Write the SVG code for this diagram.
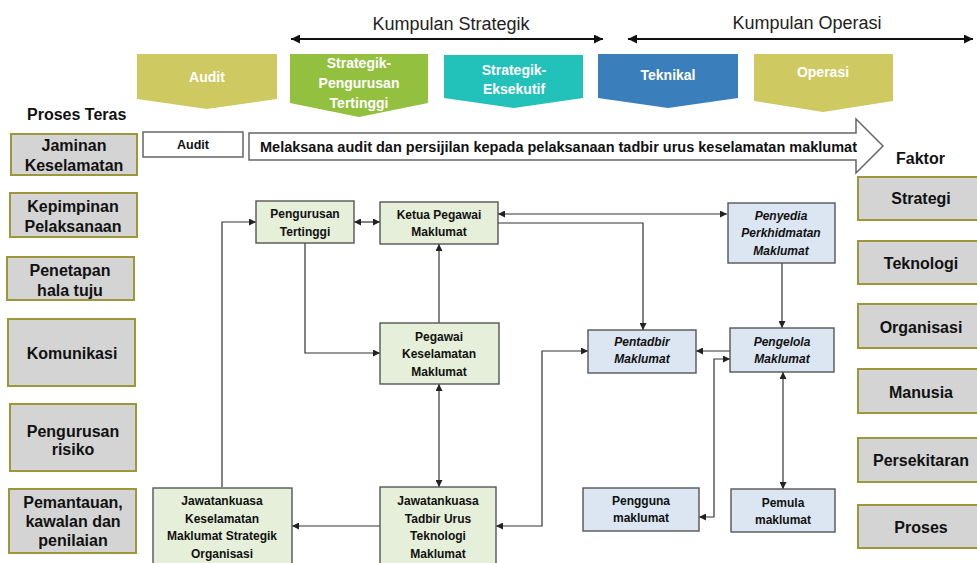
<svg xmlns="http://www.w3.org/2000/svg" width="977" height="563" viewBox="0 0 977 563">
<style>
  .chev text { font-family: "Liberation Sans", Arial, sans-serif; font-weight: bold; font-size: 14px; fill: #ffffff; text-anchor: middle; }
  .hdr { font-family: "Liberation Sans", Arial, sans-serif; font-size: 18px; fill: #222; text-anchor: middle; }
  .ttl { font-family: "Liberation Sans", Arial, sans-serif; font-weight: bold; font-size: 16px; fill: #111; }
  .gbox { fill: #d4d4d4; stroke: #9d973c; stroke-width: 2; }
  .gtxt { font-family: "Liberation Sans", Arial, sans-serif; font-weight: bold; font-size: 16px; fill: #111; text-anchor: middle; }
  .nG { fill: #e6efd9; stroke: #555; stroke-width: 1.4; }
  .nB { fill: #dbe6f2; stroke: #555; stroke-width: 1.4; }
  .nt { font-family: "Liberation Sans", Arial, sans-serif; font-weight: bold; font-size: 12px; fill: #111; text-anchor: middle; }
  .it { font-style: italic; }
  .conn { fill: none; stroke: #333; stroke-width: 1.2; }
  .top { fill: none; stroke: #111; stroke-width: 2; }
</style>
<defs>
  <marker id="ah" viewBox="0 0 10 10" refX="10" refY="5" markerWidth="7" markerHeight="7" markerUnits="userSpaceOnUse" orient="auto-start-reverse">
    <path d="M0,0 L10,5 L0,10 z" fill="#222"/>
  </marker>
  <marker id="ahT" viewBox="0 0 10 10" refX="10" refY="5" markerWidth="9" markerHeight="9" markerUnits="userSpaceOnUse" orient="auto-start-reverse">
    <path d="M0,0 L10,5 L0,10 z" fill="#111"/>
  </marker>
</defs>
<rect width="977" height="563" fill="#ffffff"/>

<g id="hdr-strategik">
  <text class="hdr" x="451" y="30">Kumpulan Strategik</text>
  <line class="top" x1="291" y1="39" x2="603" y2="39" marker-start="url(#ahT)" marker-end="url(#ahT)"/>
</g>
<g id="hdr-operasi">
  <text class="hdr" x="807" y="29">Kumpulan Operasi</text>
  <line class="top" x1="628" y1="39" x2="973" y2="39" marker-start="url(#ahT)" marker-end="url(#ahT)"/>
</g>

<g id="chev-audit" class="chev">
  <polygon points="137,54 277,54 277,99 207,109 137,99" fill="#cfc962"/>
  <text x="207" y="82">Audit</text>
</g>
<g id="chev-pengurusan" class="chev">
  <polygon points="290,54 428,54 428,103 359,117 290,103" fill="#93c13f"/>
  <text x="359" y="68">Strategik-</text>
  <text x="359" y="88">Pengurusan</text>
  <text x="359" y="108">Tertinggi</text>
</g>
<g id="chev-eksekutif" class="chev">
  <polygon points="444,55 583,55 583,98 514,108 444,98" fill="#22c2bb"/>
  <text x="514" y="75">Strategik-</text>
  <text x="514" y="94">Eksekutif</text>
</g>
<g id="chev-teknikal" class="chev">
  <polygon points="598,54 738,54 738,98 668,108 598,98" fill="#3a7fbb"/>
  <text x="668" y="80">Teknikal</text>
</g>
<g id="chev-operasi" class="chev">
  <polygon points="754,54 893,54 893,101 823,112 754,101" fill="#cfc962"/>
  <text x="823" y="77">Operasi</text>
</g>

<text class="ttl" x="27" y="120">Proses Teras</text>
<text class="ttl" x="896" y="164">Faktor</text>

<g id="p-jaminan"><rect class="gbox" x="11" y="134" width="126" height="41"/><text class="gtxt" x="74" y="151">Jaminan</text><text class="gtxt" x="74" y="171">Keselamatan</text></g>
<g id="p-kepimpinan"><rect class="gbox" x="10" y="193" width="127" height="44"/><text class="gtxt" x="73" y="212">Kepimpinan</text><text class="gtxt" x="73" y="232">Pelaksanaan</text></g>
<g id="p-penetapan"><rect class="gbox" x="7" y="257" width="127" height="43"/><text class="gtxt" x="70" y="276">Penetapan</text><text class="gtxt" x="70" y="296">hala tuju</text></g>
<g id="p-komunikasi"><rect class="gbox" x="8" y="319" width="127" height="67"/><text class="gtxt" x="72" y="359">Komunikasi</text></g>
<g id="p-risiko"><rect class="gbox" x="10" y="404" width="126" height="67"/><text class="gtxt" x="73" y="437">Pengurusan</text><text class="gtxt" x="73" y="455">risiko</text></g>
<g id="p-pemantauan"><rect class="gbox" x="9" y="489" width="127" height="64"/><text class="gtxt" x="73" y="508">Pemantauan,</text><text class="gtxt" x="73" y="527">kawalan dan</text><text class="gtxt" x="73" y="546">penilaian</text></g>

<g id="f-strategi"><rect class="gbox" x="858" y="177" width="125" height="43"/><text class="gtxt" x="921" y="204">Strategi</text></g>
<g id="f-teknologi"><rect class="gbox" x="858" y="241" width="125" height="43"/><text class="gtxt" x="921" y="269">Teknologi</text></g>
<g id="f-organisasi"><rect class="gbox" x="858" y="304" width="125" height="44"/><text class="gtxt" x="921" y="333">Organisasi</text></g>
<g id="f-manusia"><rect class="gbox" x="858" y="369" width="125" height="44"/><text class="gtxt" x="921" y="398">Manusia</text></g>
<g id="f-persekitaran"><rect class="gbox" x="858" y="438" width="125" height="44"/><text class="gtxt" x="921" y="466">Persekitaran</text></g>
<g id="f-proses"><rect class="gbox" x="858" y="505" width="125" height="43"/><text class="gtxt" x="921" y="533">Proses</text></g>

<g id="audit-box">
  <rect x="143" y="132" width="100" height="25" fill="#fff" stroke="#666" stroke-width="1.5"/>
  <text x="193" y="149" font-family="Liberation Sans, Arial, sans-serif" font-weight="bold" font-size="12.5" fill="#111" text-anchor="middle">Audit</text>
</g>
<g id="audit-arrow">
  <polygon points="249,133 856,133 856,119 883,146 856,173 856,160 249,160" fill="#fff" stroke="#666" stroke-width="1.5"/>
  <text x="260" y="152" font-family="Liberation Sans, Arial, sans-serif" font-weight="bold" font-size="14" fill="#111" textLength="597" lengthAdjust="spacingAndGlyphs">Melaksana audit dan persijilan kepada pelaksanaan tadbir urus keselamatan maklumat</text>
</g>

<g id="connectors">
  <line class="conn" x1="354" y1="222" x2="380" y2="222" marker-start="url(#ah)" marker-end="url(#ah)"/>
  <polyline class="conn" points="305,243 305,353 380,353" marker-end="url(#ah)"/>
  <line class="conn" x1="439" y1="323" x2="439" y2="244" marker-end="url(#ah)"/>
  <polyline class="conn" points="222,487 222,222 256,222" marker-end="url(#ah)"/>
  <line class="conn" x1="498" y1="214" x2="727" y2="214" marker-start="url(#ah)" marker-end="url(#ah)"/>
  <polyline class="conn" points="498,223 643,223 643,330" marker-end="url(#ah)"/>
  <line class="conn" x1="782" y1="263" x2="782" y2="328" marker-end="url(#ah)"/>
  <line class="conn" x1="730" y1="351" x2="696" y2="351" marker-end="url(#ah)"/>
  <polyline class="conn" points="496,526 542,526 542,351 588,351" marker-start="url(#ah)" marker-end="url(#ah)"/>
  <polyline class="conn" points="699,517 714,517 714,359 730,359" marker-start="url(#ah)" marker-end="url(#ah)"/>
  <line class="conn" x1="783" y1="372" x2="783" y2="489" marker-start="url(#ah)" marker-end="url(#ah)"/>
  <line class="conn" x1="439" y1="384" x2="439" y2="487" marker-start="url(#ah)" marker-end="url(#ah)"/>
  <line class="conn" x1="380" y1="526" x2="292" y2="526" marker-end="url(#ah)"/>
</g>

<g id="n-pengurusan"><rect class="nG" x="256" y="201" width="98" height="42"/><text class="nt" x="305" y="218">Pengurusan</text><text class="nt" x="305" y="236">Tertinggi</text></g>
<g id="n-ketua"><rect class="nG" x="380" y="202" width="118" height="42"/><text class="nt" x="439" y="219">Ketua Pegawai</text><text class="nt" x="439" y="236">Maklumat</text></g>
<g id="n-pegawai"><rect class="nG" x="380" y="323" width="119" height="61"/><text class="nt" x="439" y="341">Pegawai</text><text class="nt" x="439" y="358">Keselamatan</text><text class="nt" x="439" y="376">Maklumat</text></g>
<g id="n-penyedia"><rect class="nB" x="728" y="203" width="107" height="60"/><text class="nt it" x="781" y="220">Penyedia</text><text class="nt it" x="781" y="237">Perkhidmatan</text><text class="nt it" x="781" y="255">Maklumat</text></g>
<g id="n-pentadbir"><rect class="nB" x="588" y="330" width="108" height="43"/><text class="nt it" x="642" y="346">Pentadbir</text><text class="nt it" x="642" y="363">Maklumat</text></g>
<g id="n-pengelola"><rect class="nB" x="730" y="328" width="104" height="44"/><text class="nt it" x="782" y="346">Pengelola</text><text class="nt it" x="782" y="363">Maklumat</text></g>
<g id="n-pengguna"><rect class="nB" x="583" y="488" width="116" height="43"/><text class="nt" x="641" y="505">Pengguna</text><text class="nt" x="641" y="522">maklumat</text></g>
<g id="n-pemula"><rect class="nB" x="731" y="489" width="104" height="43"/><text class="nt" x="783" y="507">Pemula</text><text class="nt" x="783" y="524">maklumat</text></g>
<g id="n-jk-keselamatan"><rect class="nG" x="153" y="488" width="139" height="80"/><text class="nt" x="222" y="505">Jawatankuasa</text><text class="nt" x="222" y="523">Keselamatan</text><text class="nt" x="222" y="540">Maklumat Strategik</text><text class="nt" x="222" y="558">Organisasi</text></g>
<g id="n-jk-tadbir"><rect class="nG" x="380" y="487" width="116" height="80"/><text class="nt" x="438" y="505">Jawatankuasa</text><text class="nt" x="438" y="523">Tadbir Urus</text><text class="nt" x="438" y="540">Teknologi</text><text class="nt" x="438" y="558">Maklumat</text></g>
</svg>
